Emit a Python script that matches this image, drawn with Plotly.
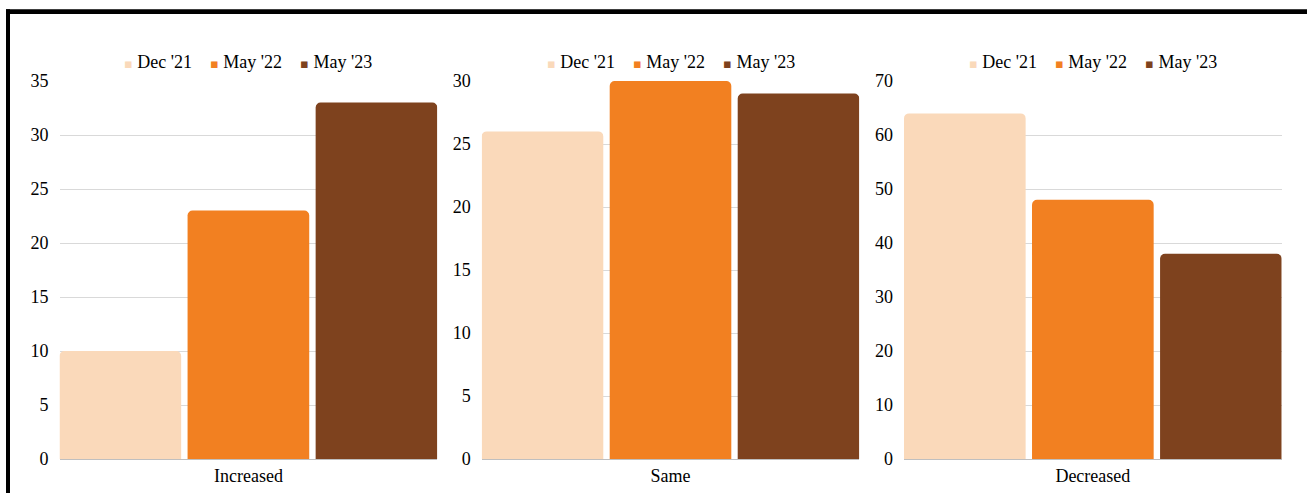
import plotly.graph_objects as go

# Survey responses by wave
categories = ["Increased", "Same", "Decreased"]
series_names = ["Dec '21", "May '22", "May '23"]
dec_21 = [10, 26, 64]
may_22 = [23, 30, 48]
may_23 = [33, 29, 38]
y_max = [35, 30, 70]
y_step = [5, 5, 10]

colors = ["#FAD9BA", "#F28021", "#7E421E"]
series_values = [dec_21, may_22, may_23]

W, H = 1307, 493
FONT = "Liberation Serif, Times New Roman, serif"

# panel geometry in pixels (left, right) and vertical extent (top, bottom)
panels_px = [(59.5, 437.3), (481.7, 859.3), (904, 1281.7)]
top_px, bottom_px = 81, 459

fig = go.Figure()
group_gap = 0.05
inset = group_gap / 6

axis_names = ["", "2", "3"]

for p, cat in enumerate(categories):
    ax = axis_names[p]
    for s, name in enumerate(series_names):
        fig.add_trace(go.Bar(
            x=[cat], y=[series_values[s][p]], name=name,
            marker=dict(color=colors[s], line=dict(width=0), cornerradius=5),
            xaxis="x" + ax, yaxis="y" + ax, showlegend=False,
            hoverinfo="x+y+name",
        ))

layout = dict(
    width=W, height=H,
    margin=dict(l=0, r=0, t=0, b=0, autoexpand=False),
    paper_bgcolor="white", plot_bgcolor="white",
    barmode="group", bargap=0, bargroupgap=group_gap,
    font=dict(family=FONT, size=18, color="black"),
    showlegend=False,
)

# per-panel key: small coloured square followed by the series name
def key_text():
    parts = []
    for name, col in zip(series_names, colors):
        parts.append(
            f"<span style='font-family:DejaVu Sans;font-size:13px;color:{col}'>▪</span>"
            f" {name}"
        )
    return "&nbsp;&nbsp;&nbsp;&nbsp;".join(parts)

annotations = []
ydom = [1 - bottom_px / H, 1 - top_px / H]
for p in range(3):
    ax = axis_names[p]
    x0, x1 = panels_px[p]
    layout["xaxis" + ax] = dict(
        domain=[x0 / W, x1 / W], anchor="y" + ax, type="category",
        range=[-0.5 + inset, 0.5 - inset], showgrid=False, automargin=False,
        showline=True, linecolor="#bfbfbf", linewidth=1, layer="below traces",
        ticks="", tickfont=dict(family=FONT, size=18, color="black"),
        fixedrange=True,
    )
    layout["yaxis" + ax] = dict(
        domain=ydom, anchor="x" + ax, range=[0, y_max[p]], dtick=y_step[p],
        showgrid=True, gridcolor="#d9d9d9", gridwidth=1, zeroline=False,
        showline=False, ticks="", ticklabelstandoff=10, automargin=False,
        tickfont=dict(family=FONT, size=18, color="black"),
        layer="below traces", fixedrange=True,
    )
    annotations.append(dict(
        text=key_text(), xref="paper", yref="paper",
        x=(x0 + x1) / 2 / W, y=1 - 62 / H, xanchor="center", yanchor="middle",
        showarrow=False, font=dict(family=FONT, size=18, color="black"),
    ))

layout["annotations"] = annotations

# frame along the top and left edges
layout["shapes"] = [
    dict(type="rect", xref="paper", yref="paper", x0=6 / W, x1=1, y0=1 - 14 / H, y1=1 - 9.3 / H,
         fillcolor="black", line=dict(width=0)),
    dict(type="rect", xref="paper", yref="paper", x0=6 / W, x1=10 / W, y0=0, y1=1 - 9.3 / H,
         fillcolor="black", line=dict(width=0)),
]

fig.update_layout(**layout)
fig.write_html("out.html")
